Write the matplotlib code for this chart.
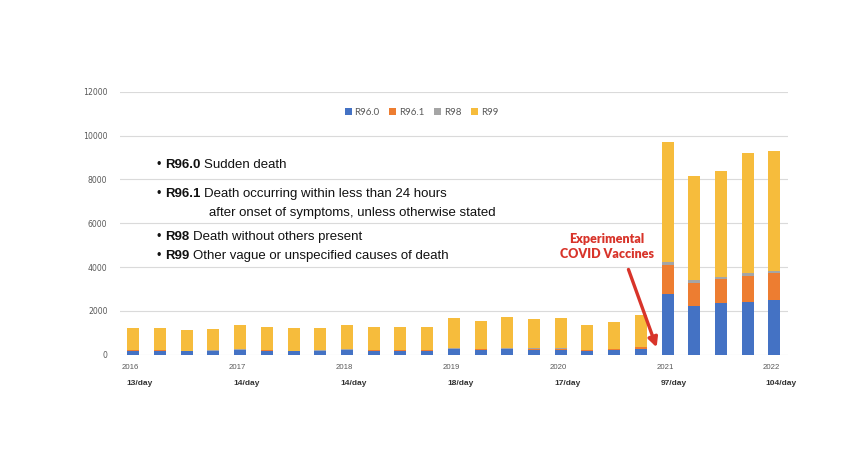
import matplotlib.pyplot as plt
import numpy as np

# quarterly counts, 2016 Q1 .. 2022 Q1
years = ['2016', '2017', '2018', '2019', '2020', '2021', '2022']
per_day = ['13/day', '14/day', '14/day', '18/day', '17/day', '97/day', '104/day']
r96_0 = [170, 180, 150, 160, 200, 180, 150, 160, 200, 170, 180, 170, 240,
         220, 240, 230, 230, 180, 210, 280, 2785, 2224, 2347, 2393, 2498]
r96_1 = [30, 30, 30, 30, 35, 30, 30, 30, 35, 30, 30, 30, 40,
         40, 40, 40, 40, 35, 40, 70, 1311, 1064, 1095, 1201, 1218]
r98 = [10, 10, 10, 10, 10, 10, 10, 10, 10, 10, 10, 10, 15,
       15, 15, 15, 15, 10, 15, 20, 123, 123, 120, 150, 120]
r99 = [995, 985, 924, 960, 1097, 1030, 1015, 1005, 1125, 1040, 1060, 1070, 1395,
       1278, 1425, 1360, 1390, 1131, 1213, 1442, 5493, 4749, 4840, 5452, 5479]

series = [('R96.0', r96_0, '#4472C4'), ('R96.1', r96_1, '#ED7D31'),
          ('R98', r98, '#A5A5A5'), ('R99', r99, '#F6BC3C')]

notes = [('R96.0', 'Sudden death'),
         ('R96.1', 'Death occurring within less than 24 hours'),
         ('R98', 'Death without others present'),
         ('R99', 'Other vague or unspecified causes of death')]

fig = plt.figure(figsize=(8.48, 4.49), dpi=100)
ax = fig.add_axes([0.1415, 0.21, 0.7875, 0.5858])

x = np.arange(len(r99))
bottom = np.zeros(len(x))
for name, vals, col in series:
    ax.bar(x, vals, width=0.45, bottom=bottom, color=col, label=name, zorder=3)
    bottom += np.array(vals)

ax.set_xlim(-0.5, len(x) - 0.5)
ax.set_ylim(0, 12000)
ax.set_yticks(np.arange(0, 12001, 2000))
ax.yaxis.grid(True, color='#dadada', lw=0.8, zorder=0)
for s in ax.spines.values():
    s.set_visible(False)
ax.tick_params(axis='y', length=0, pad=9, labelsize=5.6, labelcolor='#595959')
ax.set_xticks([])

# year and per-day labels under every 4th bar
tr = ax.get_xaxis_transform()
for i, (yr, pd_) in enumerate(zip(years, per_day)):
    ax.text(i * 4 - 0.1, -0.05, yr, transform=tr, ha='center', va='center',
            fontsize=5.6, color='#595959', family='Liberation Sans')
    ax.text(i * 4 + 0.25, -0.111, pd_, transform=tr, ha='center', va='center',
            fontsize=6, fontweight='bold', color='#333333', family='Liberation Sans')

# bullet notes
note_y = [0.72, 0.612, 0.446, 0.376]
for (code, desc), yy in zip(notes, note_y):
    b = ax.text(0.0554, yy, '•', transform=ax.transAxes, va='center', ha='left',
                fontsize=9, family='Liberation Sans', color='#111111')
    c = ax.annotate(code, xy=(1, 0.5), xycoords=b, xytext=(2.5, 0),
                    textcoords='offset points', va='center', ha='left',
                    fontsize=9.5, fontweight='bold', family='Liberation Sans', color='#111111')
    ax.annotate(desc, xy=(1, 0.5), xycoords=c, xytext=(2.8, 0),
                textcoords='offset points', va='center', ha='left',
                fontsize=9.5, family='Liberation Sans', color='#111111')
ax.text(0.133, 0.538, 'after onset of symptoms, unless otherwise stated',
        transform=ax.transAxes, va='center', ha='left', fontsize=9.5,
        family='Liberation Sans', color='#111111')

# vaccine annotation
red = '#D8342A'
ax.text(0.7286, 0.412, 'Experimental\nCOVID Vaccines', transform=ax.transAxes,
        ha='center', va='center', fontsize=9, fontweight='heavy', color=red,
        family='Lato', linespacing=1.35)
ax.annotate('', xy=(0.805, 0.018), xycoords='axes fraction',
            xytext=(0.760, 0.334), textcoords='axes fraction',
            arrowprops=dict(arrowstyle='-|>', color=red, lw=2.4, mutation_scale=14))

fig.legend(loc='center', bbox_to_anchor=(0.497, 0.75), ncol=4, frameon=False,
           handlelength=0.7, handleheight=0.7, handletextpad=0.3,
           columnspacing=1.0, labelcolor='#595959', prop={'family': 'Lato', 'size': 7})

plt.savefig('out.png', dpi=100)
